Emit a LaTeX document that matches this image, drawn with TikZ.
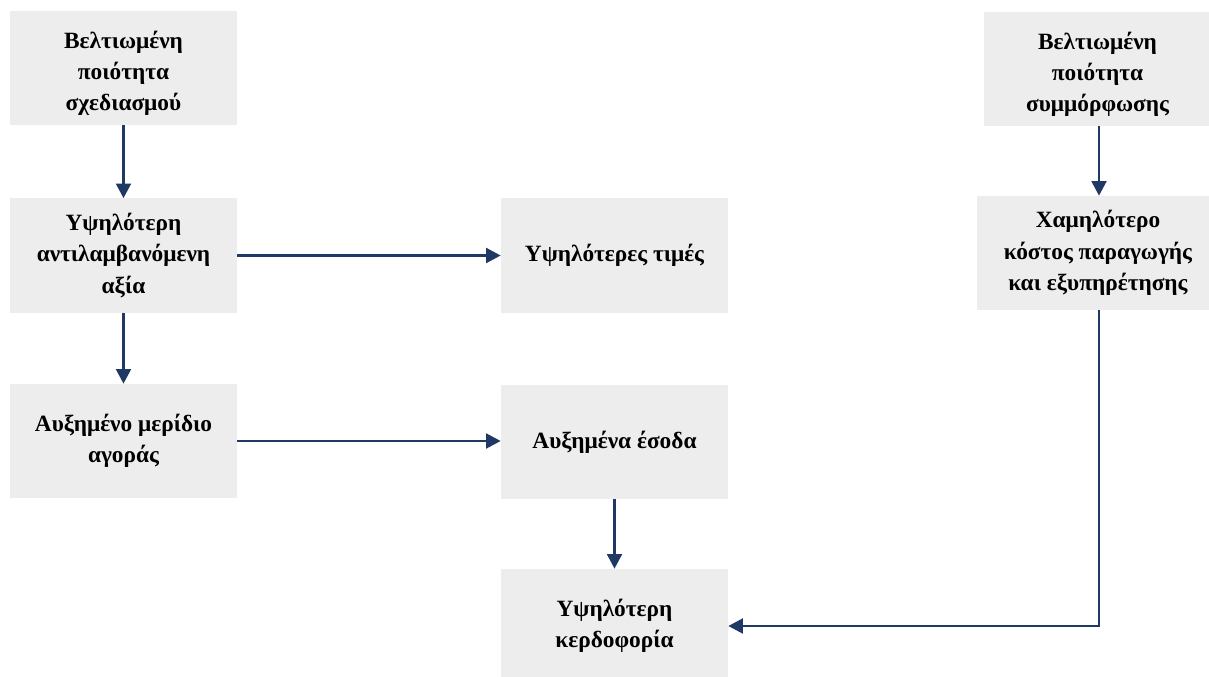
\documentclass[tikz,border=0pt]{standalone}
\usepackage{fontspec}
\setmainfont{Liberation Serif}
\usetikzlibrary{arrows.meta}
\definecolor{boxgray}{HTML}{EDEDED}
\definecolor{navy}{HTML}{203864}
\begin{document}
\begin{tikzpicture}[x=0.75pt,y=-0.75pt,
  box/.style={fill=boxgray, draw=none, inner sep=0pt, align=center,
    minimum width=170.25pt, minimum height=85.5pt,
    font=\fontsize{17.5pt}{23.5pt}\selectfont\bfseries},
  topbox/.style={box, text height=68pt},
  link/.style={draw=navy, line width=2.2pt,
    -{Triangle[length=11pt,width=11pt]}}]
\useasboundingbox (0,0) rectangle (1209,677);

% left column
\node[topbox] (design) at (123.5,68) {Βελτιωμένη\\ποιότητα\\σχεδιασμού};
\node[box] (value) at (123.5,255.5) {Υψηλότερη\\αντιλαμβανόμενη\\αξία};
\node[box] (share) at (123.5,441) {Αυξημένο μερίδιο\\αγοράς};

% middle column
\node[box] (prices) at (614.5,255.5) {Υψηλότερες τιμές};
\node[box] (revenue) at (614.5,442) {Αυξημένα έσοδα};
\node[box] (profit) at (614.5,626) {Υψηλότερη\\κερδοφορία};

% right column
\node[topbox] (conform) at (1097.5,69) {Βελτιωμένη\\ποιότητα\\συμμόρφωσης};
\node[box, minimum width=181.5pt] (cost) at (1098,253) {Χαμηλότερο\\κόστος παραγωγής\\και εξυπηρέτησης};

% connectors
\draw[link] (design.south) -- (value.north);
\draw[link] (value.south) -- (share.north);
\draw[link] (value.east) -- (prices.west);
\draw[link] (share.east) -- (share.east -| revenue.west);
\draw[link] (revenue.south) -- (profit.north);
\draw[link] (conform.south -| 1099,0) -- (cost.north -| 1099,0);
\coordinate (corner) at (1099,626);
\draw[link] (cost.south -| corner) -- (corner) -- (profit.east);
\end{tikzpicture}
\end{document}
